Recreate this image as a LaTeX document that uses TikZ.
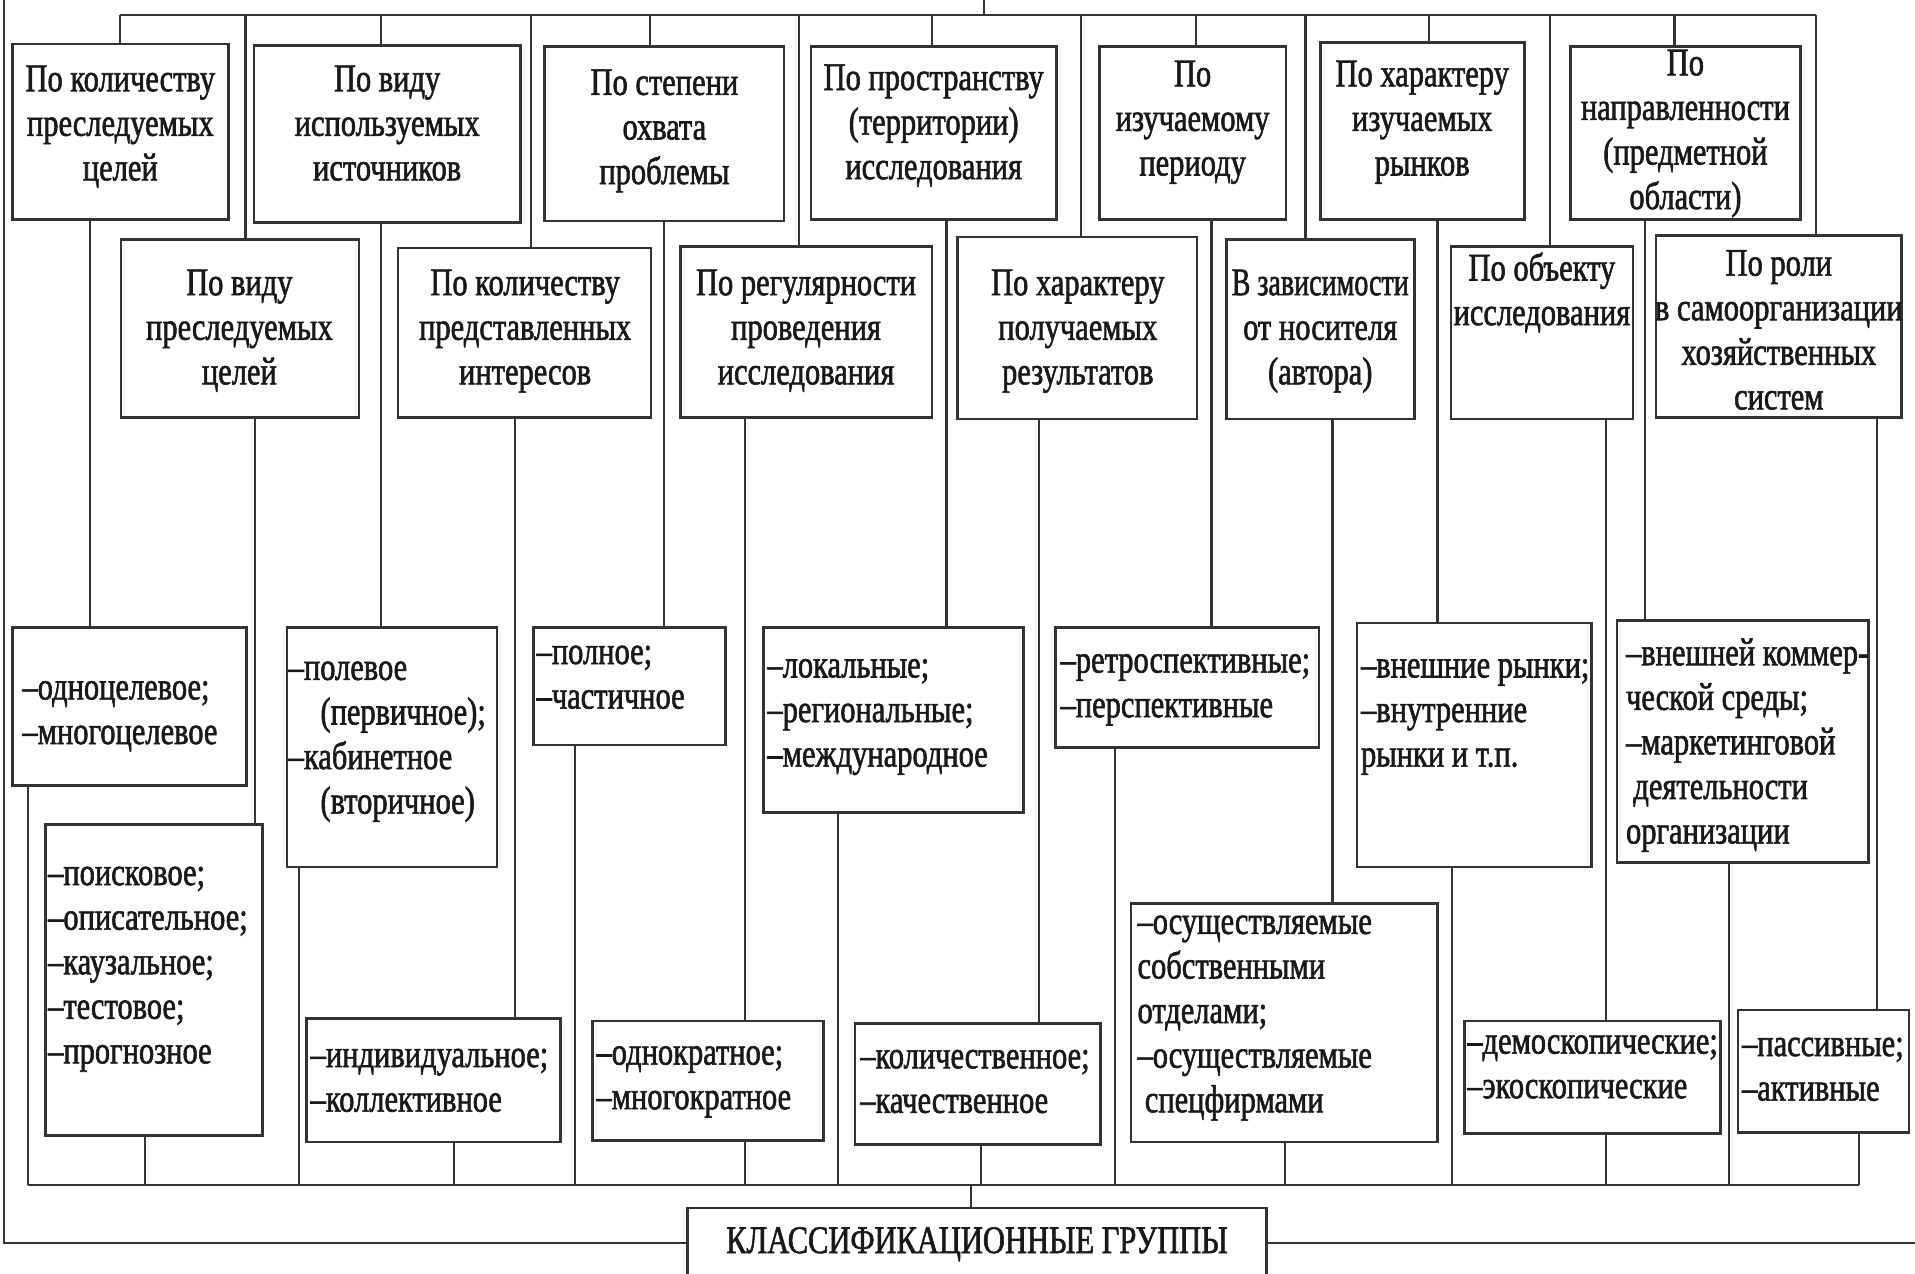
\documentclass[tikz,border=0pt]{standalone}
\usepackage{fontspec}
\usetikzlibrary{fit}
\newfontfamily\df{Liberation Serif}[FakeStretch=0.78, FakeBold=1.5]
\newcommand\fs{\df\fontsize{16pt}{18.25pt}\selectfont}
\newcommand\st{\rule{0pt}{12pt}}
\tikzset{
  box/.style={draw=black!80, line width=1.1pt, fill=white, inner sep=0pt},
  ln/.style={draw=black!80, line width=0.9pt},
  ttl/.style={align=center, inner sep=0pt, anchor=north, font=\fs, text=black!90},
  lst/.style={align=left, inner sep=0pt, anchor=north west, font=\fs, text=black!90},
}
\begin{document}
\begin{tikzpicture}[x=0.5pt, y=-0.5pt]
\useasboundingbox (0,0) rectangle (1568,1043);
% outer frame
\coordinate (fTL) at (3,0);
\coordinate (fBL) at (3,1018);
\coordinate (fBR) at (1568,1018);
\draw[ln] (fTL) -- (fBL) -- (fBR);

% boxes, top row
\node[box, fit={(10,36) (187,180)}] (A1) {};
\node[box, fit={(208,37) (426,182)}] (A2) {};
\node[box, fit={(446,38) (642,181)}] (A3) {};
\node[box, fit={(664,38) (865,180)}] (A4) {};
\node[box, fit={(900,38) (1053,180)}] (A5) {};
\node[box, fit={(1081,35) (1248,180)}] (A6) {};
\node[box, fit={(1286,38) (1474,180)}] (A7) {};
% second row
\node[box, fit={(99,196) (294,342)}] (B1) {};
\node[box, fit={(326,203) (533,342)}] (B2) {};
\node[box, fit={(557,202) (763,342)}] (B3) {};
\node[box, fit={(784,194) (980,343)}] (B4) {};
\node[box, fit={(1004,196) (1158,343)}] (B5) {};
\node[box, fit={(1188,202) (1337,343)}] (B6) {};
\node[box, fit={(1356,193) (1557,342)}] (B7) {};
% third row
\node[box, fit={(10,514) (202,643)}] (C1) {};
\node[box, fit={(235,514) (407,710)}] (C2) {};
\node[box, fit={(437,514) (594,610)}] (C3) {};
\node[box, fit={(625,514) (838,665)}] (C4) {};
\node[box, fit={(864,514) (1080,612)}] (C5) {};
\node[box, fit={(1111,510) (1303,710)}] (C6) {};
\node[box, fit={(1324,508) (1530,706)}] (C7) {};
% fourth row
\node[box, fit={(37,675) (215,930)}] (D1) {};
\node[box, fit={(251,834) (459,935)}] (D2) {};
\node[box, fit={(485,836) (674,934)}] (D3) {};
\node[box, fit={(700,838) (901,937)}] (D4) {};
\node[box, fit={(926,740) (1177,935)}] (D5) {};
\node[box, fit={(1199,836) (1409,928)}] (D6) {};
\node[box, fit={(1423,827) (1563,927)}] (D7) {};
% bottom box
\node[box, fit={(563,989) (1037,1070)}] (K) {};

% titles
\node[ttl] (A1t) at (98.5,50.3) {\st По количеству\\преследуемых\\целей};
\node[ttl] (A2t) at (317,50.3) {\st По виду\\используемых\\источников};
\node[ttl] (A3t) at (544,53.3) {\st По степени\\охвата\\проблемы};
\node[ttl] (A4t) at (764.5,49.3) {\st По пространству\\(территории)\\исследования};
\node[ttl] (A5t) at (976.5,46.3) {\st По\\изучаемому\\периоду};
\node[ttl] (A6t) at (1164.5,46.3) {\st По характеру\\изучаемых\\рынков};
\node[ttl] (A7t) at (1380,37.3) {\st По\\направленности\\(предметной\\области)};
\node[ttl] (B1t) at (196,217.3) {\st По виду\\преследуемых\\целей};
\node[ttl] (B2t) at (430,217.3) {\st По количеству\\представленных\\интересов};
\node[ttl] (B3t) at (660,217.3) {\st По регулярности\\проведения\\исследования};
\node[ttl] (B4t) at (882.5,217.3) {\st По характеру\\получаемых\\результатов};
\node[ttl] (B5t) at (1081,217.3) {\st \scalebox{0.92}[1]{В зависимости}\\от носителя\\(автора)};
\node[ttl] (B6t) at (1262.5,205.3) {\st По объекту\\исследования};
\node[ttl] (B7t) at (1456.5,201.3) {\st По роли\\в самоорганизации\\хозяйственных\\систем};

% lists
\node[lst] (C1t) at (18,548.3) {\st –одноцелевое;\\–многоцелевое};
\node[lst] (C2t) at (236,532.3) {\st –полевое\\\hspace*{13pt}(первичное);\\–кабинетное\\\hspace*{13pt}(вторичное)};
\node[lst] (C3t) at (439,519.3) {\st –полное;\\–частичное};
\node[lst] (C4t) at (628,530.3) {\st –локальные;\\–региональные;\\–международное};
\node[lst] (C5t) at (868,526.3) {\st –ретроспективные;\\–перспективные};
\node[lst] (C6t) at (1114,530.3) {\st –внешние рынки;\\–внутренние\\рынки и т.п.};
\node[lst] (C7t) at (1331,520.3) {\st –внешней коммер-\\ческой среды;\\–маркетинговой\\\hspace*{3pt}деятельности\\организации};
\node[lst] (D1t) at (39,700.3) {\st –поисковое;\\–описательное;\\–каузальное;\\–тестовое;\\–прогнозное};
\node[lst] (D2t) at (254,849.3) {\st –индивидуальное;\\–коллективное};
\node[lst] (D3t) at (488,847.3) {\st –однократное;\\–многократное};
\node[lst] (D4t) at (704,850.3) {\st –количественное;\\–качественное};
\node[lst] (D5t) at (931,740.3) {\st –осуществляемые\\собственными\\отделами;\\–осуществляемые\\\hspace*{3pt}спецфирмами};
\node[lst] (D6t) at (1201,838.3) {\st –демоскопические;\\–экоскопические};
\node[lst] (D7t) at (1426,840.3) {\st –пассивные;\\–активные};
\node[inner sep=0pt, anchor=base, font=\fs, text=black!90] (Kt) at (800,1026) {КЛАССИФИКАЦИОННЫЕ ГРУППЫ};

% top bus
\coordinate (top) at (806,0);
\coordinate (tbus) at (0,12);
\coordinate (tL) at (98.5,12);
\coordinate (tR) at (1487,12);
\draw[ln] (top) -- (top |- tbus);
\draw[ln] (tL) -- (tR);
\foreach \n/\x in {A1/98.5,A2/312,A3/532,A4/763,A5/979,A6/1170,A7/1371,
                   B1/201,B2/435,B3/654,B4/885,B5/1069,B6/1269,B7/1487}{
  \coordinate (s\n) at (\x,12);
  \draw[ln] (s\n) -- (s\n |- \n.north);
}
% A -> C, B -> D
\foreach \a/\c/\x in {A1/C1/74,A2/C2/312,A3/C3/544,A4/C4/775,A5/C5/992,A6/C6/1177,A7/C7/1347,
                      B1/D1/209,B2/D2/421.5,B3/D3/610,B4/D4/851,B5/D5/1091,B6/D6/1315,B7/D7/1537}{
  \coordinate (v\c) at (\x,0);
  \draw[ln] (v\c |- \a.south) -- (v\c |- \c.north);
}
% bottom bus
\coordinate (bbus) at (0,970);
\foreach \c/\x in {C1/23,D1/119,C2/245,D2/372,C3/471,D3/610,C4/686,D4/803,
                   C5/913,D5/1052,C6/1189,D6/1315,C7/1416,D7/1522}{
  \coordinate (b\c) at (\x,0);
  \draw[ln] (b\c |- \c.south) -- (b\c |- bbus);
}
\draw[ln] (bC1 |- bbus) -- (bD7 |- bbus);
\coordinate (kx) at (795,0);
\draw[ln] (kx |- bbus) -- (kx |- K.north);
\end{tikzpicture}
\end{document}
